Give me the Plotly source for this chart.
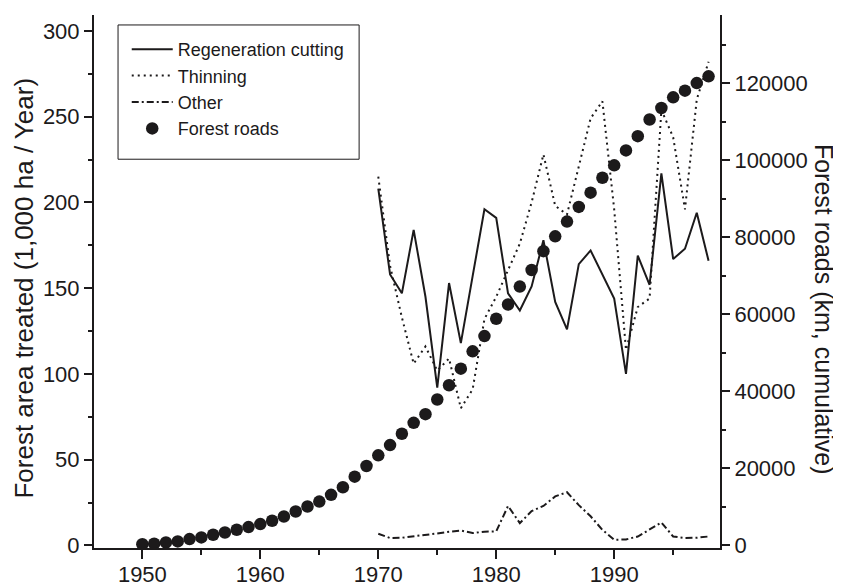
import plotly.graph_objects as go

# ---- data ----
years_treat = list(range(1970, 1999))
regeneration = [208, 158, 147, 184, 145, 92, 153, 118, 157, 196, 191, 147, 137, 151, 178, 142,
                126, 164, 172, 158, 144, 100, 169, 152, 217, 167, 173, 194, 166]
thinning = [215, 163, 133, 106, 116, 102, 109, 80, 91, 132, 145, 161, 176, 200, 228, 198,
            193, 221, 249, 259, 196, 114, 139, 144, 254, 238, 196, 260, 282]
other = [6.8, 4.3, 4.5, 5.2, 6.0, 7.0, 8.0, 8.7, 7.2, 8.0, 8.2, 23, 13, 20, 23, 28.6,
         31, 23.5, 17, 9.1, 3.3, 3.5, 5.2, 9.1, 13.4, 5.2, 4.3, 4.5, 5.2]
years_roads = list(range(1950, 1999))
roads = [300, 440, 780, 1040, 1650, 2070, 2770, 3360, 4060, 4760, 5540, 6390, 7500, 8800,
         10090, 11380, 13120, 15100, 17850, 20620, 23390, 26050, 29000, 31830, 34070, 37880,
         41580, 45900, 50380, 54340, 58840, 62540, 67200, 71520, 76400, 80260, 84090, 87890,
         91590, 95470, 98680, 102560, 106260, 110580, 113580, 116350, 118080, 120050, 121790]

x_ticks = [1950, 1960, 1970, 1980, 1990]
left_ticks = [0, 50, 100, 150, 200, 250, 300]
right_ticks = [0, 20000, 40000, 60000, 80000, 100000, 120000]

left_title = "Forest area treated (1,000 ha / Year)"
right_title = "Forest roads (km, cumulative)"

INK = "#1c1a1b"
FONT = "Liberation Sans, Arial, sans-serif"

fig = go.Figure()
fig.add_trace(go.Scatter(x=years_treat, y=regeneration, mode="lines", name="Regeneration cutting",
                         line=dict(color=INK, width=2)))
fig.add_trace(go.Scatter(x=years_treat, y=thinning, mode="lines", name="Thinning",
                         line=dict(color=INK, width=2, dash="2px,4px")))
fig.add_trace(go.Scatter(x=years_treat, y=other, mode="lines", name="Other",
                         line=dict(color=INK, width=2, dash="7px,3px,2px,3px")))
fig.add_trace(go.Scatter(x=years_roads, y=roads, mode="markers", name="Forest roads", yaxis="y2",
                         marker=dict(color=INK, size=12.5, symbol="circle")))

tick_common = dict(ticks="outside", tickwidth=2, tickcolor=INK, showline=True, linewidth=2,
                   linecolor=INK, showgrid=False, zeroline=False, automargin=False,
                   tickfont=dict(size=22, family=FONT, color=INK))

# the page body has an 8px margin, so the figure is sized to fit the visible window
fig.update_layout(
    width=833, height=579,
    margin=dict(l=86, r=121, t=7, b=39),
    paper_bgcolor="white", plot_bgcolor="white",
    font=dict(family=FONT, color=INK, size=20),
    showlegend=True,
    legend=dict(x=0.0523, y=0.970, xanchor="left", yanchor="top",
                borderwidth=0, bgcolor="rgba(0,0,0,0)",
                font=dict(size=18, family=FONT, color=INK),
                itemwidth=41, tracegroupgap=0),
    shapes=[dict(type="rect", xref="paper", yref="paper", x0=0.0384, x1=0.4235,
                 y0=0.7294, y1=0.9813, line=dict(color=INK, width=1), fillcolor="white",
                 layer="below")],
    xaxis=dict(range=[1945.9, 1998.97], tickmode="array", tickvals=x_ticks, ticklen=9,
               ticklabelstandoff=-3,
               minor=dict(dtick=5, ticks="outside", ticklen=5, tickwidth=2, tickcolor=INK, showgrid=False),
               **tick_common),
    yaxis=dict(range=[-1.5, 309.3], tickmode="array", tickvals=left_ticks, ticklen=8,
               minor=dict(dtick=25, ticks="outside", ticklen=4, tickwidth=2, tickcolor=INK, showgrid=False),
               **tick_common),
    yaxis2=dict(range=[-674, 137720], overlaying="y", side="right", tickmode="array",
                tickvals=right_ticks, ticklen=8, tickformat="d",
                minor=dict(dtick=10000, ticks="outside", ticklen=4, tickwidth=2, tickcolor=INK, showgrid=False),
                **tick_common),
    annotations=[
        dict(text=left_title, xref="paper", yref="paper", x=-0.1124, y=0.488,
             xanchor="center", yanchor="middle", textangle=-90, showarrow=False,
             font=dict(size=26, family=FONT, color=INK)),
        dict(text=right_title, xref="paper", yref="paper", x=1.166, y=0.4468,
             xanchor="center", yanchor="middle", textangle=90, showarrow=False,
             font=dict(size=25, family=FONT, color=INK)),
    ],
)

fig.write_html("out.html")
